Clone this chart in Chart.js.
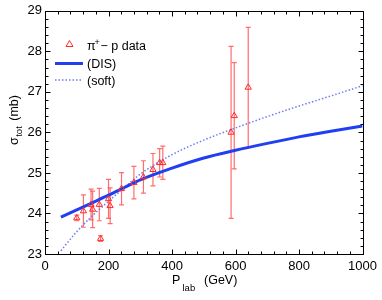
<!DOCTYPE html>
<html>
<head>
<meta charset="utf-8">
<script src="https://cdn.jsdelivr.net/npm/chart.js@4.4.1/dist/chart.umd.min.js"></script>
<style>
  html, body { margin: 0; padding: 0; background: #fff; }
</style>
</head>
<body>
<canvas id="chart" width="382" height="300"></canvas>
<script>
// pi+ p data points
const pLab = [100, 121, 145, 150, 171, 175, 200, 205, 241, 280, 310, 340, 361, 371, 586, 596, 640];
const sigma = [23.89, 24.06, 24.22, 24.10, 24.22, 23.38, 24.36, 24.19, 24.61, 24.76, 24.90, 25.08, 25.25, 25.25, 26.00, 26.41, 27.11];
const sigmaErr = [0.07, 0.40, 0.38, 0.45, 0.40, 0.07, 0.48, 0.44, 0.40, 0.40, 0.40, 0.40, 0.35, 0.41, 2.12, 1.31, 1.48];

// model curves
const curveP = [50, 100, 150, 200, 250, 300, 400, 500, 600, 700, 800, 900, 1000];
const disSigma = [23.91, 24.09, 24.27, 24.45, 24.64, 24.83, 25.12, 25.37, 25.56, 25.73, 25.89, 26.03, 26.16];
const softSigma = [23.08, 23.55, 23.95, 24.30, 24.64, 24.97, 25.45, 25.81, 26.11, 26.39, 26.65, 26.90, 27.15];

const xTicks = [0, 200, 400, 600, 800, 1000];
const yTicks = [23, 24, 25, 26, 27, 28, 29];

const FONT = '"Liberation Sans", Arial, Helvetica, sans-serif';
const RED = '#ff2a2a';
const BLUE = '#1f3ff0';
const DOT_BLUE = '#6d7cf4';

const toXY = (xs, ys) => xs.map((x, i) => ({ x, y: ys[i] }));

const errorBars = {
  id: 'errorBars',
  beforeDatasetsDraw(chart) {
    const { ctx, scales: { x, y } } = chart;
    ctx.save();
    ctx.strokeStyle = 'rgba(255,60,60,0.75)';
    ctx.lineWidth = 1.2;
    pLab.forEach((p, i) => {
      const px = x.getPixelForValue(p);
      const top = y.getPixelForValue(sigma[i] + sigmaErr[i]);
      const bot = y.getPixelForValue(sigma[i] - sigmaErr[i]);
      ctx.beginPath();
      ctx.moveTo(px, top); ctx.lineTo(px, bot);
      ctx.moveTo(px - 2.5, top); ctx.lineTo(px + 2.5, top);
      ctx.moveTo(px - 2.5, bot); ctx.lineTo(px + 2.5, bot);
      ctx.stroke();
    });
    ctx.restore();
  }
};

const frame = {
  id: 'frame',
  afterDraw(chart) {
    const { ctx, chartArea: a, scales: { x, y } } = chart;
    const L = Math.round(a.left) + 0.5, R = Math.round(a.right) + 0.5;
    const T = Math.round(a.top) + 0.5, B = Math.round(a.bottom) + 0.5;
    ctx.save();
    ctx.strokeStyle = '#000';
    ctx.lineWidth = 1;
    ctx.strokeRect(L, T, R - L, B - T);
    ctx.beginPath();
    for (let v = 40; v < 1000; v += 40) {
      const px = Math.round(x.getPixelForValue(v)) + 0.5;
      const len = v % 200 === 0 ? 5 : 3;
      ctx.moveTo(px, B); ctx.lineTo(px, B - len);
      ctx.moveTo(px, T); ctx.lineTo(px, T + len);
    }
    for (let k = 1; k < 30; k++) {
      const v = 23 + k * 0.2;
      const py = Math.round(y.getPixelForValue(v)) + 0.5;
      const len = k % 5 === 0 ? 5 : 3;
      ctx.moveTo(L, py); ctx.lineTo(L + len, py);
      ctx.moveTo(R, py); ctx.lineTo(R - len, py);
    }
    ctx.stroke();

    // legend
    ctx.strokeStyle = RED;
    ctx.lineWidth = 1;
    ctx.beginPath();
    ctx.moveTo(69.5, 40.5); ctx.lineTo(73, 46.5); ctx.lineTo(66, 46.5); ctx.closePath();
    ctx.stroke();
    ctx.fillStyle = '#000';
    ctx.textBaseline = 'alphabetic';
    ctx.font = '12.5px ' + FONT;
    ctx.fillText('\u03c0', 87, 50);
    ctx.font = '9px ' + FONT;
    ctx.fillText('+', 94.5, 44.5);
    ctx.font = '12.5px ' + FONT;
    ctx.fillText('\u2212 p data', 100.5, 50);

    ctx.strokeStyle = BLUE;
    ctx.lineWidth = 3;
    ctx.beginPath(); ctx.moveTo(55, 63.5); ctx.lineTo(83, 63.5); ctx.stroke();
    ctx.fillText('(DIS)', 87, 68);

    ctx.strokeStyle = DOT_BLUE;
    ctx.lineWidth = 1.5;
    ctx.setLineDash([1.5, 2]);
    ctx.beginPath(); ctx.moveTo(55, 80); ctx.lineTo(83, 80); ctx.stroke();
    ctx.setLineDash([]);
    ctx.fillText('(soft)', 87, 85);

    // x title
    ctx.font = '12.5px ' + FONT;
    ctx.fillText('P', 172, 284);
    ctx.font = '9.5px ' + FONT;
    ctx.fillText('lab', 182.5, 291);
    ctx.font = '12.5px ' + FONT;
    ctx.fillText('(GeV)', 204, 284);

    // y title
    ctx.translate(18, 145);
    ctx.rotate(-Math.PI / 2);
    ctx.fillText('\u03c3', 0, 0);
    let w = ctx.measureText('\u03c3').width;
    ctx.font = '9.5px ' + FONT;
    ctx.fillText('tot', w + 0.5, 4);
    w += ctx.measureText('tot').width + 6;
    ctx.font = '12.5px ' + FONT;
    ctx.fillText('(mb)', w, 0);
    ctx.restore();
  }
};

new Chart(document.getElementById('chart'), {
  type: 'scatter',
  data: {
    datasets: [
      {
        label: '\u03c0+ - p data',
        data: toXY(pLab, sigma),
        showLine: false,
        pointStyle: 'triangle',
        pointRadius: 3.6,
        pointBorderWidth: 1,
        pointBorderColor: RED,
        pointBackgroundColor: 'rgba(0,0,0,0)',
      },
      {
        label: '(DIS)',
        data: toXY(curveP, disSigma),
        showLine: true,
        borderColor: BLUE,
        borderWidth: 3,
        pointRadius: 0,
        cubicInterpolationMode: 'monotone',
      },
      {
        label: '(soft)',
        data: toXY(curveP, softSigma),
        showLine: true,
        borderColor: DOT_BLUE,
        borderWidth: 1.5,
        borderDash: [1.5, 2],
        pointRadius: 0,
        cubicInterpolationMode: 'monotone',
      },
    ],
  },
  options: {
    responsive: false,
    animation: false,
    layout: { padding: { top: 10, right: 18, left: 0, bottom: 0 } },
    plugins: { legend: { display: false }, tooltip: { enabled: false } },
    scales: {
      x: {
        type: 'linear', min: 0, max: 1000,
        afterBuildTicks: (s) => { s.ticks = xTicks.map((value) => ({ value })); },
        afterFit: (s) => { s.height = 46; },
        ticks: { color: '#000', padding: 5, maxRotation: 0, font: { family: FONT, size: 13 }, callback: (v) => String(v) },
        grid: { display: false, drawTicks: false },
        border: { display: false },
      },
      y: {
        min: 23, max: 29,
        afterBuildTicks: (s) => { s.ticks = yTicks.map((value) => ({ value })); },
        afterFit: (s) => { s.width = 45; },
        ticks: { color: '#000', padding: 3, font: { family: FONT, size: 13 }, callback: (v) => String(v) },
        grid: { display: false, drawTicks: false },
        border: { display: false },
      },
    },
  },
  plugins: [errorBars, frame],
});
</script>
</body>
</html>
